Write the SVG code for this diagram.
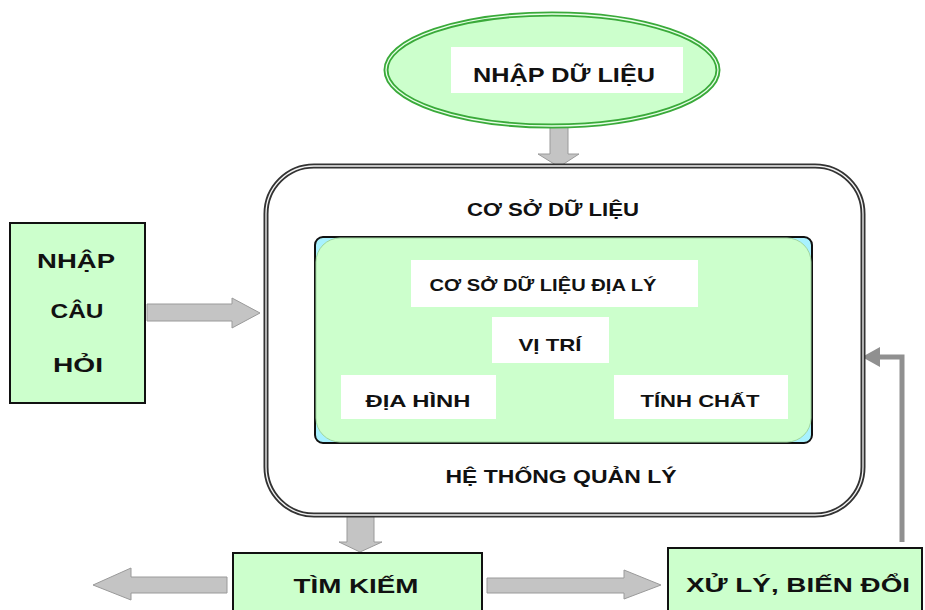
<svg xmlns="http://www.w3.org/2000/svg" width="925" height="610" viewBox="0 0 925 610">
<style>
.t{font-family:"Liberation Sans","DejaVu Sans",sans-serif;font-weight:bold;fill:#111;text-anchor:middle}
.box{fill:#ccffcc;stroke:#111;stroke-width:2}
.wb{fill:#fff}
.arr{fill:#c4c4c4;stroke:#9a9a9a;stroke-width:1}
</style>
<rect width="925" height="610" fill="#fff"/>
<g id="connectors">
<path class="arr" d="M550,127 H568 V154 H579 L559,167 L538,154 H550 Z"/>
<path class="arr" d="M147,304 H232 V298 L260,313 L232,328 V321 H147 Z"/>
<path class="arr" d="M347,516 H374 V542 H382 L360,552 L339,542 H347 Z"/>
<path class="arr" d="M227,577 H131 V568 L93,585 L131,600 V593 H227 Z"/>
<path class="arr" d="M487,578 H624 V570 L661,585 L624,599 V593 H487 Z"/>
<path d="M902,542 V357 H878" fill="none" stroke="#909090" stroke-width="5"/>
<path d="M862,357 L880,347 L880,367 Z" fill="#909090"/>
</g>
<g id="nhap-du-lieu">
<ellipse cx="552" cy="70" rx="166" ry="56" fill="#ccffcc" stroke="#3aaa3a" stroke-width="5"/>
<ellipse cx="552" cy="70" rx="166" ry="56" fill="none" stroke="#e8ffe8" stroke-width="1.3"/>
<rect class="wb" x="451" y="47" width="232" height="46"/>
<text class="t" x="564" y="82" font-size="21" textLength="182" lengthAdjust="spacingAndGlyphs">NHẬP DỮ LIỆU</text>
</g>
<g id="co-so-du-lieu">
<rect x="266" y="166" width="597" height="349" rx="48" fill="#fff" stroke="#333" stroke-width="5"/>
<rect x="266" y="166" width="597" height="349" rx="48" fill="none" stroke="#f4f4f4" stroke-width="1.3"/>
<text class="t" x="553" y="216" font-size="18" textLength="172" lengthAdjust="spacingAndGlyphs">CƠ SỞ DỮ LIỆU</text>
<text class="t" x="561" y="483" font-size="18" textLength="231" lengthAdjust="spacingAndGlyphs">HỆ THỐNG QUẢN LÝ</text>
</g>
<g id="csdl-dia-ly">
<rect x="315" y="237" width="497" height="206" rx="8" fill="#a8f2ff" stroke="#111" stroke-width="2"/>
<rect x="316" y="238" width="495" height="204" rx="24" fill="#ccffcc" stroke="#9fd69f" stroke-width="1"/>
<rect class="wb" x="411" y="260" width="287" height="47"/>
<text class="t" x="543" y="291" font-size="17" textLength="227" lengthAdjust="spacingAndGlyphs">CƠ SỞ DỮ LIỆU ĐỊA LÝ</text>
</g>
<g id="vi-tri">
<rect class="wb" x="492" y="317" width="117" height="46"/>
<text class="t" x="550" y="351" font-size="17" textLength="63" lengthAdjust="spacingAndGlyphs">VỊ TRÍ</text>
</g>
<g id="dia-hinh">
<rect class="wb" x="341" y="375" width="155" height="44"/>
<text class="t" x="418" y="407" font-size="17" textLength="105" lengthAdjust="spacingAndGlyphs">ĐỊA HÌNH</text>
</g>
<g id="tinh-chat">
<rect class="wb" x="614" y="375" width="174" height="44"/>
<text class="t" x="700" y="407" font-size="17" textLength="119" lengthAdjust="spacingAndGlyphs">TÍNH CHẤT</text>
</g>
<g id="nhap-cau-hoi">
<rect class="box" x="10" y="223" width="135" height="180"/>
<text class="t" x="76" y="268" font-size="20" textLength="78" lengthAdjust="spacingAndGlyphs">NHẬP</text>
<text class="t" x="77" y="318" font-size="20" textLength="53" lengthAdjust="spacingAndGlyphs">CÂU</text>
<text class="t" x="78" y="372" font-size="20" textLength="50" lengthAdjust="spacingAndGlyphs">HỎI</text>
</g>
<g id="tim-kiem">
<rect class="box" x="233" y="553" width="249" height="70"/>
<text class="t" x="356" y="593" font-size="20" textLength="125" lengthAdjust="spacingAndGlyphs">TÌM KIẾM</text>
</g>
<g id="xu-ly-bien-doi">
<rect class="box" x="668" y="548" width="254" height="75"/>
<text class="t" x="798" y="592" font-size="21" textLength="224" lengthAdjust="spacingAndGlyphs">XỬ LÝ, BIẾN ĐỔI</text>
</g>
</svg>
